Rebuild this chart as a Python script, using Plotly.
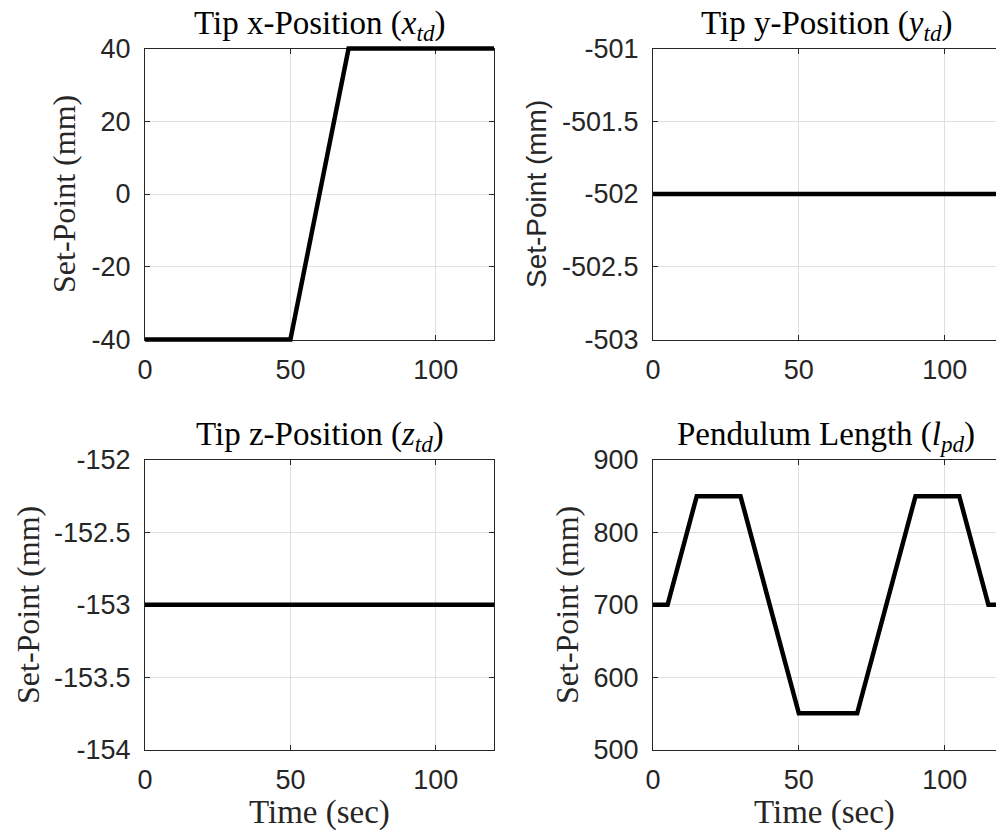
import plotly.graph_objects as go

# ---- data ----
tx_t = [0, 50, 70, 120]
tx_v = [-40, -40, 40, 40]

ty_t = [0, 120]
ty_v = [-502, -502]

tz_t = [0, 120]
tz_v = [-153, -153]

lp_t = [0, 5, 15, 30, 50, 70, 90, 105, 115, 120]
lp_v = [700, 700, 850, 850, 550, 550, 850, 850, 700, 700]

x_ticks = [0, 50, 100]
x_ticktext = ["0", "50", "100"]
tx_ticks = [-40, -20, 0, 20, 40]
tx_ticktext = ["-40", "-20", "0", "20", "40"]
ty_ticks = [-503, -502.5, -502, -501.5, -501]
ty_ticktext = ["-503", "-502.5", "-502", "-501.5", "-501"]
tz_ticks = [-154, -153.5, -153, -152.5, -152]
tz_ticktext = ["-154", "-153.5", "-153", "-152.5", "-152"]
lp_ticks = [500, 600, 700, 800, 900]
lp_ticktext = ["500", "600", "700", "800", "900"]

titles = ["Tip x-Position (<i>x</i><sub><i>td</i></sub>)",
          "Tip y-Position (<i>y</i><sub><i>td</i></sub>)",
          "Tip z-Position (<i>z</i><sub><i>td</i></sub>)",
          "Pendulum Length (<i>l</i><sub><i>pd</i></sub>)"]
ylabel = "Set-Point (mm)"
xlabel = "Time (sec)"

W, H = 996, 835
SERIF = "Liberation Serif"
SANS = "Liberation Sans"
AX = "#262626"
GRID = "#dfdfdf"
PAD = 4  # px of unclipped room for the thick data line

# panel frames in pixels: (left, right, top, bottom), with full x-range 0..120
frames = [
    (145, 494, 48.5, 339.5, [-40, 40], tx_ticks, tx_ticktext, True),
    (653, 1003, 48.5, 339.5, [-503, -501], ty_ticks, ty_ticktext, False),
    (145, 494, 460, 749.5, [-154, -152], tz_ticks, tz_ticktext, True),
    (653, 1003, 460, 749.5, [500, 900], lp_ticks, lp_ticktext, False),
]
series = [(tx_t, tx_v), (ty_t, ty_v), (tz_t, tz_v), (lp_t, lp_v)]
XFULL = [0, 120]

def frac_x(p):
    return min(max(p / W, 0.0), 1.0)

def frac_y(p):
    return min(max(1 - p / H, 0.0), 1.0)

fig = go.Figure()
layout = dict(width=W, height=H,
              margin=dict(l=0, r=0, t=0, b=0, autoexpand=False),
              paper_bgcolor="white", plot_bgcolor="rgba(0,0,0,0)")

common = dict(automargin=False, zeroline=False, fixedrange=True)

# frame subplots first (empty traces so the axes get drawn)
for i in range(4):
    n = i + 1
    fig.add_trace(go.Scatter(x=[], y=[], xaxis="x%d" % n, yaxis="y%d" % n,
                             mode="lines", showlegend=False, hoverinfo="skip"))

for i, (l, r, t, b, yr, yv, yt, full_box) in enumerate(frames):
    n = i + 1
    sx = (r - l) / (XFULL[1] - XFULL[0])
    sy = (b - t) / (yr[1] - yr[0])
    vis_r = min(r, W)
    xa = dict(domain=[frac_x(l), frac_x(vis_r)], anchor="y%d" % n,
              range=[XFULL[0], XFULL[0] + (vis_r - l) / sx],
              tickvals=x_ticks, ticktext=x_ticktext,
              showgrid=True, gridcolor=GRID, gridwidth=1,
              showline=True, linecolor=AX, linewidth=1, mirror="ticks",
              ticks="inside", ticklen=5, tickcolor=AX, tickwidth=1,
              tickfont=dict(family=SANS, size=27, color=AX),
              ticklabelstandoff=6, **common)
    ya = dict(domain=[frac_y(b), frac_y(t)], anchor="x%d" % n, range=yr,
              tickvals=yv, ticktext=yt,
              showgrid=True, gridcolor=GRID, gridwidth=1,
              showline=True, linecolor=AX, linewidth=1,
              mirror="ticks" if full_box else False,
              ticks="inside", ticklen=5, tickcolor=AX, tickwidth=1,
              tickfont=dict(family=SANS, size=27, color=AX),
              ticklabelstandoff=8, **common)
    layout["xaxis%d" % n if n > 1 else "xaxis"] = xa
    layout["yaxis%d" % n if n > 1 else "yaxis"] = ya
    # hidden data axes, slightly larger so the thick line is not cut at the frame
    m = n + 4
    dl, dr = l - PAD, min(r + PAD, W)
    dt, db = t - PAD, b + PAD
    layout["xaxis%d" % m] = dict(domain=[frac_x(dl), frac_x(dr)], anchor="y%d" % m,
                                 range=[XFULL[0] - (l - dl) / sx, XFULL[0] + (dr - l) / sx],
                                 visible=False, **common)
    layout["yaxis%d" % m] = dict(domain=[frac_y(db), frac_y(dt)], anchor="x%d" % m,
                                 range=[yr[0] - (db - b) / sy, yr[1] + (t - dt) / sy],
                                 visible=False, **common)
    st, sv = series[i]
    fig.add_trace(go.Scatter(x=st, y=sv, xaxis="x%d" % m, yaxis="y%d" % m, mode="lines",
                             line=dict(color="black", width=4.5),
                             showlegend=False, hoverinfo="skip"))

fig.update_layout(**layout)

annots = []
# titles
for txt, cx, cy in [(titles[0], 319.5, 25), (titles[1], 826, 25),
                    (titles[2], 319.5, 437), (titles[3], 826, 437)]:
    annots.append(dict(text=txt, xref="paper", yref="paper",
                       x=cx / W, y=1 - cy / H, xanchor="center", yanchor="middle",
                       showarrow=False, font=dict(family=SERIF, size=33, color="black")))
# y labels
for cx, cy, fam, sz in [(64, 194, SERIF, 32), (536, 194, SANS, 28),
                        (28, 605, SERIF, 32), (567, 605, SERIF, 32)]:
    annots.append(dict(text=ylabel, xref="paper", yref="paper",
                       x=cx / W, y=1 - cy / H, xanchor="center", yanchor="middle",
                       textangle=-90, showarrow=False,
                       font=dict(family=fam, size=sz, color=AX)))
# x labels
for cx in [319.5, 824]:
    annots.append(dict(text=xlabel, xref="paper", yref="paper",
                       x=cx / W, y=1 - 812 / H, xanchor="center", yanchor="middle",
                       showarrow=False, font=dict(family=SERIF, size=33, color=AX)))
fig.update_layout(annotations=annots)

fig.write_html("out.html", config=dict(displayModeBar=False))
